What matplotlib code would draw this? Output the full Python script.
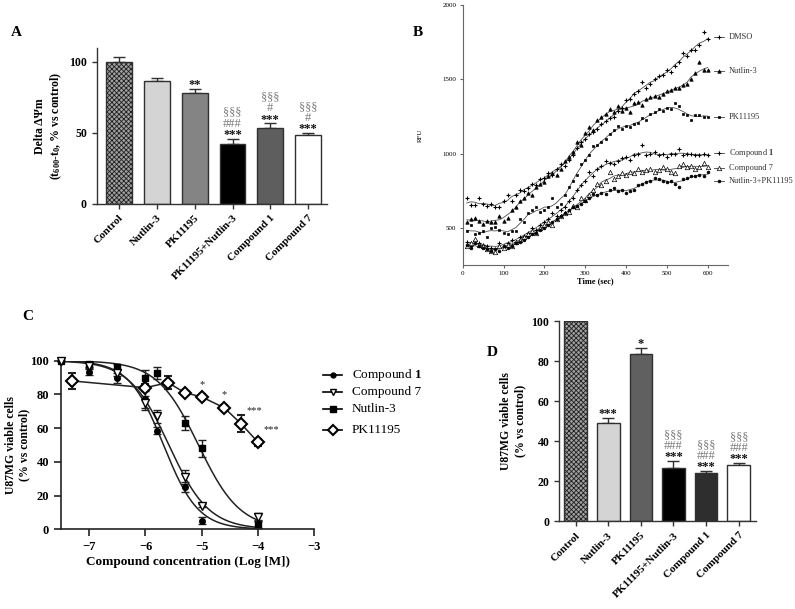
import numpy as np
import pandas as pd
import matplotlib
matplotlib.use('Agg')
import matplotlib.pyplot as plt
from matplotlib.lines import Line2D

plt.rcParams['font.family'] = ['Liberation Serif', 'DejaVu Serif']
plt.rcParams['mathtext.fontset'] = 'custom'
plt.rcParams['mathtext.rm'] = 'Liberation Serif:bold'
plt.rcParams['mathtext.it'] = 'Liberation Serif:bold:italic'
plt.rcParams['mathtext.bf'] = 'Liberation Serif:bold'
plt.rcParams['hatch.linewidth'] = 0.6

# ---------------- data ----------------
groups = ['Control', 'Nutlin-3', 'PK11195', 'PK11195+Nutlin-3', 'Compound 1', 'Compound 7']

# Panel A
a_vals = [100, 86.2, 78.2, 42.0, 53.3, 48.4]
a_err = [3.1, 2.3, 2.4, 3.8, 3.3, 1.2]
a_colors = ['#a0a0a0', '#d4d4d4', '#848484', '#000000', '#5e5e5e', '#ffffff']
a_star = ['', '', '**', '***', '***', '***']
a_hash = ['', '', '', '###', '#', '#']
a_sect = ['', '', '', '§§§', '§§§', '§§§']

# Panel D
d_vals = [100, 48.8, 83.3, 26.3, 23.8, 27.8]
d_err = [0, 2.5, 3.4, 3.5, 1.0, 1.2]
d_colors = ['#a0a0a0', '#d4d4d4', '#606060', '#000000', '#2e2e2e', '#ffffff']
d_star = ['', '***', '*', '***', '***', '***']
d_hash = ['', '', '', '###', '###', '###']
d_sect = ['', '', '', '§§§', '§§§', '§§§']

# Panel B (RFU every 10 s)
b_time = list(range(10, 610, 10))
b_dmso = [700, 655, 655, 700, 665, 650, 660, 640, 640, 680, 720, 680, 720, 760, 750, 770, 800, 790, 830, 840,
          870, 860, 900, 930, 920, 960, 990, 1040, 1080, 1100, 1130, 1150, 1170, 1200, 1220, 1240, 1250, 1290, 1310, 1360,
          1370, 1400, 1420, 1480, 1440, 1470, 1500, 1520, 1530, 1560, 1550, 1590, 1620, 1680, 1660, 1700, 1700, 1730, 1820, 1770]
b_nutlin = [540, 560, 570, 550, 530, 550, 545, 540, 580, 550, 570, 620, 640, 680, 700, 740, 720, 780, 800, 810,
            850, 870, 860, 900, 950, 980, 1010, 1080, 1060, 1140, 1180, 1160, 1230, 1250, 1270, 1300, 1280, 1320, 1290, 1310,
            1280, 1340, 1350, 1330, 1370, 1380, 1390, 1380, 1400, 1420, 1430, 1440, 1440, 1460, 1470, 1500, 1540, 1620, 1560, 1560]
b_pk = [480, 520, 460, 470, 480, 440, 500, 510, 490, 470, 460, 480, 480, 560, 540, 600, 620, 640, 610, 620,
        640, 700, 640, 660, 720, 780, 820, 860, 930, 960, 990, 1050, 1060, 1080, 1100, 1130, 1160, 1190, 1170, 1190,
        1180, 1200, 1210, 1240, 1230, 1270, 1280, 1300, 1290, 1310, 1300, 1340, 1320, 1270, 1260, 1230, 1260, 1260, 1250, 1250]
b_c1 = [410, 380, 420, 400, 390, 380, 370, 360, 400, 380, 400, 420, 410, 440, 450, 470, 500, 490, 520, 540,
        560, 600, 580, 620, 640, 680, 700, 760, 790, 820, 880, 850, 900, 920, 950, 940, 930, 950, 970, 980,
        960, 990, 1000, 1060, 990, 1000, 1010, 990, 1000, 980, 1000, 1000, 1030, 990, 1000, 1000, 990, 990, 1000, 990]
b_c7 = [380, 400, 430, 390, 380, 360, 350, 340, 380, 370, 390, 380, 410, 420, 440, 460, 480, 470, 500, 520,
        540, 520, 560, 580, 600, 610, 650, 640, 700, 690, 720, 760, 800, 790, 820, 880, 830, 850, 870, 860,
        880, 870, 900, 880, 890, 900, 880, 890, 910, 900, 880, 870, 920, 930, 910, 920, 900, 910, 940, 910]
b_npk = [390, 370, 400, 380, 370, 360, 350, 360, 350, 380, 370, 380, 400, 410, 420, 440, 460, 470, 490, 500,
         520, 540, 560, 580, 600, 620, 640, 650, 660, 680, 700, 730, 720, 740, 730, 760, 770, 750, 760, 740,
         750, 760, 790, 800, 810, 820, 840, 830, 820, 810, 820, 800, 780, 830, 840, 850, 850, 860, 850, 880]
b_labels = ['DMSO', 'Nutlin-3', 'PK11195', 'Compound $\\mathbf{1}$', 'Compound 7', 'Nutlin-3+PK11195']
b_label_y = [1788, 1557, 1250, 1006, 907, 818]

# Panel C (log M, % viable)
c1_x = [-7.5, -7, -6.5, -6, -5.8, -5.3, -5, -4]
c1_y = [100, 93.5, 89.5, 77, 58.5, 25, 5, 3]
c1_e = [0, 2, 3, 5, 2, 3, 2, 2]
c7_x = [-7.5, -7, -6.5, -6, -5.8, -5.3, -5, -4]
c7_y = [100, 97, 93, 75, 67, 31, 14, 7.5]
c7_e = [0, 2, 2, 4, 4, 4, 1, 2]
nut_x = [-7.5, -7, -6.5, -6, -5.8, -5.3, -5, -4]
nut_y = [100, 98, 96.5, 89.5, 92.5, 63, 48, 3]
nut_e = [0, 1.5, 1.5, 5, 3.5, 4, 5, 2]
pk_x = [-7.3, -6, -5.6, -5.3, -5, -4.6, -4.3, -4]
pk_y = [88, 84, 87, 81, 78.5, 72, 62.5, 51.5]
pk_e = [5, 2, 4, 1, 1.5, 1.5, 5, 2]
pk_sig = ['', '', '', '', '*', '*', '***', '***']

# ---------------- figure ----------------
fig = plt.figure(figsize=(7.95, 6.09), dpi=100)
W, H = 795.0, 609.0


def ax_px(l, t, r, b):
    return fig.add_axes([l / W, 1 - b / H, (r - l) / W, (b - t) / H])


def style(ax, lw=1.0, color='#333333'):
    for s in ['top', 'right']:
        ax.spines[s].set_visible(False)
    for s in ['left', 'bottom']:
        ax.spines[s].set_linewidth(lw)
        ax.spines[s].set_color(color)
    ax.tick_params(direction='out', width=lw, color=color)


def bar_panel(ax, vals, errs, colors, stars, hashes, sects, ylim, yticks, width, capsize):
    x = np.arange(len(vals))
    for i in range(len(vals)):
        if i == 0:
            ax.bar(x[i], vals[i], width, color=colors[i], edgecolor='#202020', hatch='xxxxxxx', linewidth=0, zorder=2)
            ax.bar(x[i], vals[i], width, fill=False, edgecolor='#303030', linewidth=1, zorder=3)
        else:
            ax.bar(x[i], vals[i], width, color=colors[i], edgecolor='#303030', linewidth=1, zorder=2)
        if errs[i] > 0:
            ax.errorbar(x[i], vals[i], yerr=[[0], [errs[i]]], fmt='none', ecolor='#303030',
                        elinewidth=1, capsize=capsize, capthick=1, zorder=1)
        top = vals[i] + errs[i]
        if stars[i]:
            ax.annotate(stars[i], (x[i], top), xytext=(0, -1.5), textcoords='offset points',
                        ha='center', va='bottom', fontsize=9, fontweight='bold', color='#111111')
        if hashes[i]:
            ax.annotate(hashes[i], (x[i], top), xytext=(0, 6.5), textcoords='offset points',
                        ha='center', va='bottom', fontsize=9, color='#7a7a7a')
        if sects[i]:
            ax.annotate(sects[i], (x[i], top), xytext=(0, 14.5), textcoords='offset points',
                        ha='center', va='bottom', fontsize=9, color='#7a7a7a')
    ax.set_ylim(*ylim)
    ax.set_yticks(yticks)
    ax.set_xticks(x)
    ax.set_xticklabels(groups, rotation=45, ha='right', rotation_mode='anchor',
                       fontsize=8, fontweight='bold')
    for lab in ax.get_yticklabels():
        lab.set_fontweight('bold')
        lab.set_fontsize(8.5)
    style(ax)


# ---------- Panel A ----------
axA = ax_px(96.7, 47.7, 326.7, 203.7)
bar_panel(axA, a_vals, a_err, a_colors, a_star, a_hash, a_sect, (0, 110), [0, 50, 100], 0.68, 4.3)
axA.set_xlim(-0.59, 5.49)
axA.set_ylabel('Delta \u0394\u03a8m\n(t$_{600}$-t$_{0}$, % vs control)', fontsize=8.5,
               fontweight='bold', labelpad=4)
fig.text(11 / W, 1 - 32 / H, 'A', fontsize=11, fontweight='bold', va='center')

# ---------- Panel B ----------
axB = ax_px(462.7, 5, 728, 265)
series = [b_dmso, b_nutlin, b_pk, b_c1, b_c7, b_npk]
mk = [dict(marker='+', ms=3.5, mew=0.8, mfc='k', mec='k'),
      dict(marker='^', ms=2.5, mew=0.5, mfc='k', mec='k'),
      dict(marker='s', ms=2.0, mew=0.5, mfc='k', mec='k'),
      dict(marker='+', ms=3.5, mew=0.8, mfc='k', mec='k'),
      dict(marker='^', ms=3.2, mew=0.5, mfc='white', mec='k'),
      dict(marker='o', ms=2.0, mew=0.5, mfc='k', mec='k')]
for s, m, lab, ly in zip(series, mk, b_labels, b_label_y):
    sm = pd.Series(s).rolling(5, center=True, min_periods=1).mean()
    axB.plot(b_time, sm, color='#505050', lw=0.6, zorder=2)
    axB.plot(b_time, s, linestyle='none', zorder=3, **m)
    axB.plot([616, 640], [ly, ly], color='#404040', lw=0.6, clip_on=False)
    axB.plot([628], [ly], linestyle='none', clip_on=False, **m)
    axB.text(652, ly, lab, fontsize=6, va='center', ha='left', color='#333333')
axB.set_xlim(0, 650)
axB.set_ylim(253, 2000)
axB.set_xticks(range(0, 700, 100))
axB.set_yticks([500, 1000, 1500, 2000])
style(axB, lw=0.8, color='#666666')
axB.tick_params(labelsize=5, length=2.5, pad=2)
axB.set_xlabel('Time (sec)', fontsize=6, fontweight='bold', labelpad=1)
axB.set_ylabel('RFU', fontsize=5, labelpad=14)
fig.text(413 / W, 1 - 32 / H, 'B', fontsize=11, fontweight='bold', va='center')


# ---------- Panel C ----------
def fit_hill(x, y):
    # least-squares fit of a dose-response curve with top = 100, bottom = 0
    x = np.asarray(x, float)
    y = np.asarray(y, float)
    lcs = np.linspace(-7.0, -3.5, 701)[:, None, None]
    hs = np.linspace(0.3, 3.0, 271)[None, :, None]
    f = 100.0 / (1.0 + 10 ** ((x[None, None, :] - lcs) * hs))
    sse = ((f - y) ** 2).sum(axis=2)
    i, j = np.unravel_index(np.argmin(sse), sse.shape)
    return lcs[i, 0, 0], hs[0, j, 0]


axC = ax_px(61, 360.7, 314.5, 529.3)
xx = np.linspace(-7.5, -4, 300)
for xs, ys in [(c1_x, c1_y), (c7_x, c7_y), (nut_x, nut_y)]:
    lc, h = fit_hill(xs, ys)
    axC.plot(xx, 100 / (1 + 10 ** ((xx - lc) * h)), color='#222222', lw=1.1, zorder=2)
axC.plot(pk_x, pk_y, color='#222222', lw=1.1, zorder=2)
ckw = dict(ecolor='#222222', elinewidth=1, capsize=3, capthick=1, clip_on=False, linestyle='none')
axC.errorbar(nut_x, nut_y, yerr=nut_e, fmt='s', ms=4.5, mfc='k', mec='k', zorder=4, **ckw)
axC.errorbar(c1_x, c1_y, yerr=c1_e, fmt='o', ms=4, mfc='k', mec='k', zorder=5, **ckw)
axC.errorbar(c7_x, c7_y, yerr=c7_e, fmt='v', ms=6, mfc='white', mec='k', mew=1, zorder=5, **ckw)
axC.errorbar(pk_x, pk_y, yerr=pk_e, fmt='D', ms=6.5, mfc='white', mec='k', mew=1.5, zorder=6, **ckw)
for xv, yv, sg in zip(pk_x, pk_y, pk_sig):
    if sg:
        axC.annotate(sg, (xv, yv), xytext=(4 if len(sg) > 1 else 0, 6), textcoords='offset points',
                     ha='left' if len(sg) > 1 else 'center', va='bottom', fontsize=7.5, color='#222222')
axC.set_xlim(-7.5, -3)
axC.set_ylim(0, 100)
axC.set_xticks([-7, -6, -5, -4, -3])
axC.set_yticks([0, 20, 40, 60, 80, 100])
style(axC, lw=1.2, color='#222222')
axC.tick_params(length=5, labelsize=9)
for lab in axC.get_xticklabels() + axC.get_yticklabels():
    lab.set_fontweight('bold')
axC.set_xlabel('Compound concentration (Log [M])', fontsize=9.5, fontweight='bold', labelpad=2)
axC.set_ylabel('U87MG viable cells\n(% vs control)', fontsize=8.5, fontweight='bold', labelpad=0)
fig.text(22 / W, 1 - 316 / H, 'C', fontsize=11, fontweight='bold', va='center')

# legend C (manual)
leg = [('Compound $\\mathbf{1}$', dict(marker='o', ms=3.5, mfc='k', mec='k'), 375),
       ('Compound 7', dict(marker='v', ms=5, mfc='white', mec='k', mew=1), 392),
       ('Nutlin-3', dict(marker='s', ms=4, mfc='k', mec='k'), 409),
       ('PK11195', dict(marker='D', ms=5.5, mfc='white', mec='k', mew=1.5), 430)]
for txt, m, yp in leg:
    fig.add_artist(Line2D([323 / W, 342 / W], [1 - yp / H] * 2, color='k', lw=1.2, transform=fig.transFigure))
    fig.add_artist(Line2D([332.5 / W], [1 - yp / H], linestyle='none', transform=fig.transFigure, **m))
    fig.text(352 / W, 1 - yp / H, txt, fontsize=9.5, va='center', ha='left')

# ---------- Panel D ----------
axD = ax_px(559, 321, 755.7, 521)
bar_panel(axD, d_vals, d_err, d_colors, d_star, d_hash, d_sect, (0, 100), [0, 20, 40, 60, 80, 100], 0.69, 4.2)
axD.set_xlim(-0.51, 5.52)
axD.set_ylabel('U87MG viable cells\n(% vs control)', fontsize=8.5, fontweight='bold', labelpad=4)
fig.text(487 / W, 1 - 352 / H, 'D', fontsize=11, fontweight='bold', va='center')

fig.savefig('out.png', dpi=100)
